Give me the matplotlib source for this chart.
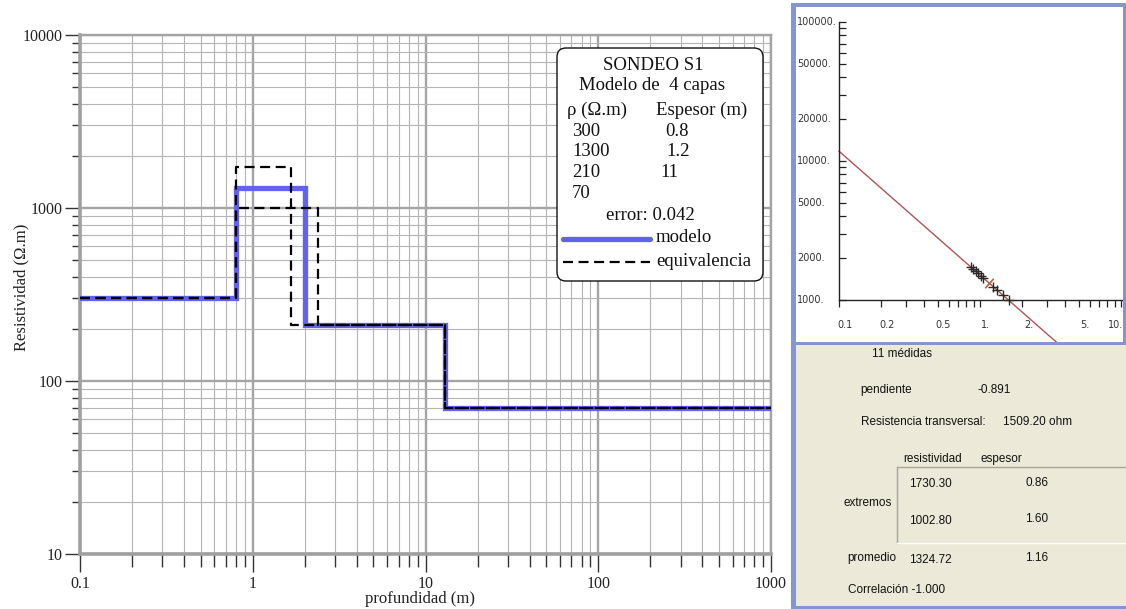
import matplotlib
matplotlib.use("Agg")
import matplotlib.pyplot as plt
import numpy as np
from matplotlib.patches import FancyBboxPatch, Rectangle
from matplotlib.lines import Line2D
from matplotlib.ticker import FixedLocator, FixedFormatter, NullFormatter
from matplotlib.transforms import blended_transform_factory, ScaledTranslation

# ---------------- data ----------------
layer_rho = [300, 1300, 210, 70]          # resistivity of each layer (ohm.m)
layer_thick = [0.8, 1.2, 11]              # thickness of each layer (m)
model_error = 0.042

equiv_rho = [1730.30, 1002.80]            # extreme equivalent resistivities, layer 2
equiv_thick = [0.86, 1.60]                # matching thicknesses, layer 2
mean_rho = 1324.72
mean_thick = 1.16
slope = -0.891
transverse_res = 1509.20
correlation = -1.000

# equivalent solutions (thickness, resistivity) of layer 2
eq_h = [0.86, 0.89, 0.93, 0.97, 1.01, 1.05, 1.24, 1.33, 1.45, 1.60, 1.16]
eq_r = [1730, 1677, 1613, 1554, 1499, 1448, 1248, 1173, 1086, 1003, 1325]

main_xticks = [0.1, 1, 10, 100, 1000]
main_xlabels = ["0.1", "1", "10", "100", "1000"]
main_yticks = [10, 100, 1000, 10000]
main_ylabels = ["10", "100", "1000", "10000"]

small_xticks = [0.1, 0.2, 0.5, 1, 2, 5, 10]
small_xlabels = ["0.1", "0.2", "0.5", "1.", "2.", "5.", "10."]
small_yticks = [1000, 2000, 5000, 10000, 20000, 50000, 100000]
small_ylabels = ["1000.", "2000.", "5000.", "10000.", "20000.", "50000.", "100000."]

# ---------------- figure ----------------
W, H, DPI = 1126, 609, 100
fig = plt.figure(figsize=(W / DPI, H / DPI), dpi=DPI)
fig.patch.set_facecolor("white")
T = fig.dpi_scale_trans


def P(x, y):
    return (x / DPI, (H - y) / DPI)


SERIF = "Liberation Serif"
SANS = "Liberation Sans"

# ---------------- main resistivity profile ----------------
ax = fig.add_axes([80 / W, (H - 554) / H, 691 / W, 519 / H])
ax.set_xscale("log")
ax.set_yscale("log")
ax.set_xlim(0.1, 1000)
ax.set_ylim(10, 10000)
ax.set_axisbelow(True)

ax.grid(which="major", color="#a4a4a4", lw=1.7)
ax.grid(which="minor", color="#b4b4b4", lw=0.8)
for s in ["left", "bottom"]:
    ax.spines[s].set_color("#a0a0a0")
    ax.spines[s].set_linewidth(2.6)
for s in ["top", "right"]:
    ax.spines[s].set_color("#a4a4a4")
    ax.spines[s].set_linewidth(1.7)

ax.xaxis.set_major_locator(FixedLocator(main_xticks))
ax.xaxis.set_major_formatter(FixedFormatter(main_xlabels))
ax.yaxis.set_major_locator(FixedLocator(main_yticks))
ax.yaxis.set_major_formatter(FixedFormatter(main_ylabels))
ax.xaxis.set_minor_formatter(NullFormatter())
ax.yaxis.set_minor_formatter(NullFormatter())
ax.tick_params(axis="x", which="major", direction="out", length=13, width=1.0,
               color="#333333", pad=3, labelsize=11.5)
ax.tick_params(axis="x", which="minor", direction="out", length=9, width=1.0,
               color="#333333")
ax.tick_params(axis="y", which="major", direction="out", length=11, width=1.0,
               color="#333333", pad=1.5, labelsize=11.5)
ax.tick_params(axis="y", which="minor", direction="out", length=6, width=1.0,
               color="#333333")
for lab in ax.get_xticklabels() + ax.get_yticklabels():
    lab.set_fontfamily(SERIF)
    lab.set_color("#222222")

xmin, xmax = ax.get_xlim()

# model curve
bounds = np.cumsum(layer_thick)
edges = np.concatenate([[xmin], bounds, [xmax]])
vals = layer_rho + [layer_rho[-1]]
ax.step(edges, vals, where="post", color="#6262ee", lw=3.8, zorder=3,
        solid_joinstyle="miter")

# equivalent models
for r, h in zip(equiv_rho, equiv_thick):
    e_edges = [xmin, layer_thick[0], layer_thick[0] + h, bounds[2], xmax]
    e_vals = [layer_rho[0], r, layer_rho[2], layer_rho[3], layer_rho[3]]
    ax.step(e_edges, e_vals, where="post", color="black", lw=1.6,
            dashes=(4.5, 2.5), zorder=4)

fig.text(*P(420, 599), "profundidad (m)", transform=T, ha="center", va="center",
         fontsize=12, fontfamily=SERIF, color="#222222")
fig.text(*P(21, 287), "Resistividad (\u03a9.m)", transform=T, ha="center",
         va="center", rotation=90, fontsize=12, fontfamily=SERIF, color="#222222")

# legend box
box = FancyBboxPatch(P(557, 281), 206 / DPI, 233 / DPI, transform=T,
                     boxstyle="round,pad=0,rounding_size=0.09",
                     facecolor="white", edgecolor="#111111", lw=1.0, zorder=5)
fig.patches.append(box)

tkw = dict(transform=T, fontsize=13.5, fontfamily=SERIF, color="#111111",
           va="center", zorder=6)
fig.text(*P(653, 65), "SONDEO S1", ha="center", **tkw)
fig.text(*P(652, 86), "Modelo de  %d capas" % len(layer_rho), ha="center", **tkw)
fig.text(*P(567, 110), "\u03c1 (\u03a9.m)", ha="left", **tkw)
fig.text(*P(656, 110), "Espesor (m)", ha="left", **tkw)
row_y = [131, 152, 173, 194]
thick_x = [665, 666, 660]
for i, r in enumerate(layer_rho):
    fig.text(*P(572, row_y[i]), "%g" % r, ha="left", **tkw)
    if i < len(layer_thick):
        fig.text(*P(thick_x[i], row_y[i]), "%g" % layer_thick[i], ha="left", **tkw)
fig.text(*P(606, 215), "error: %.3f" % model_error, ha="left", **tkw)
fig.text(*P(656, 238), "modelo", ha="left", **tkw)
fig.text(*P(656, 262), "equivalencia", ha="left", **tkw)
x0, y0 = P(563, 239)
x1, _ = P(650, 239)
fig.lines.append(Line2D([x0, x1], [y0, y0], transform=T, color="#6262ee",
                        lw=3.8, zorder=6, solid_capstyle="round"))
x0, y0 = P(563, 262)
fig.lines.append(Line2D([x0, x1], [y0, y0], transform=T, color="black",
                        lw=1.6, dashes=(4.5, 2.5), zorder=6))

# ---------------- right side panels ----------------
BORDER = "#8596cf"
fig.patches.append(Rectangle(P(795, 609), 331 / DPI, 264 / DPI, transform=T,
                             facecolor="#ece9d8", edgecolor="none", zorder=0))
fig.patches.append(Rectangle(P(791, 609), 5 / DPI, 605 / DPI, transform=T,
                             facecolor=BORDER, edgecolor="none", zorder=8))
fig.patches.append(Rectangle(P(791, 7), 335 / DPI, 4 / DPI, transform=T,
                             facecolor=BORDER, edgecolor="none", zorder=8))
fig.patches.append(Rectangle(P(1123, 344), 3 / DPI, 340 / DPI, transform=T,
                             facecolor=BORDER, edgecolor="none", zorder=8))
fig.patches.append(Rectangle(P(791, 345), 335 / DPI, 3 / DPI, transform=T,
                             facecolor=BORDER, edgecolor="none", zorder=8))
fig.patches.append(Rectangle(P(791, 609), 335 / DPI, 3 / DPI, transform=T,
                             facecolor=BORDER, edgecolor="none", zorder=8))

# small log-log plot of equivalent solutions
sx0, sx1, sy0, sy1 = 797, 1123, 8, 342
ax2 = fig.add_axes([sx0 / W, (H - sy1) / H, (sx1 - sx0) / W, (sy1 - sy0) / H])
ax2.set_xscale("log")
ax2.set_yscale("log")
ax2.patch.set_alpha(0)
dec_x, dec_y = 141.0, 139.0
ax2.set_xlim(10 ** (-1 + (sx0 - 839) / dec_x), 10 ** (-1 + (sx1 - 839) / dec_x))
ax2.set_ylim(10 ** (3 - (sy1 - 300) / dec_y), 10 ** (3 + (300 - sy0) / dec_y))
for s in ["top", "right"]:
    ax2.spines[s].set_visible(False)
ax2.spines["left"].set_position(("data", 0.1))
ax2.spines["left"].set_bounds(1000, 100000)
ax2.spines["bottom"].set_position(("data", 1000))
ax2.spines["bottom"].set_bounds(0.1, 10.3)
for s in ["left", "bottom"]:
    ax2.spines[s].set_color("#222222")
    ax2.spines[s].set_linewidth(1.0)

ax2.xaxis.set_major_locator(FixedLocator(small_xticks))
ax2.yaxis.set_major_locator(FixedLocator(small_yticks))
x_minor = [m * d for d in (0.1, 1) for m in (3, 4, 6, 7, 8, 9)]
y_minor = [m * d for d in (1000, 10000) for m in (3, 4, 6, 7, 8, 9)]
ax2.xaxis.set_minor_locator(FixedLocator(x_minor))
ax2.yaxis.set_minor_locator(FixedLocator(y_minor))
ax2.tick_params(axis="x", which="both", direction="out", length=5, width=0.9,
                color="#222222", labelbottom=False)
ax2.tick_params(axis="y", which="both", direction="in", length=5, width=0.9,
                color="#222222", labelleft=False)

skw = dict(fontsize=7, fontfamily="DejaVu Sans", color="#333333")
tr_y = blended_transform_factory(ax2.transAxes, ax2.transData)
for v, s in zip(small_yticks, small_ylabels):
    ax2.text(0.0, v, s, transform=tr_y, ha="left", va="center", clip_on=False, **skw)
tr_x = blended_transform_factory(ax2.transData, ax2.transAxes)
ylab_pos = (sy1 - 325) / (sy1 - sy0)
for v, s in zip(small_xticks, small_xlabels):
    if v == small_xticks[-1]:
        # last label sits against the panel edge
        ax2.text(1.0, ylab_pos, s, transform=ax2.transAxes, ha="right",
                 va="center", clip_on=False, **skw)
    else:
        ax2.text(v, ylab_pos, s, transform=tr_x + ScaledTranslation(6 / DPI, 0, T),
                 ha="center", va="center", clip_on=False, **skw)

# fitted line through the mean solution
hx = np.logspace(-1, 1.5, 50)
ax2.plot(hx, mean_rho * (hx / mean_thick) ** slope, color="#b05454", lw=1.0,
         zorder=2)
ax2.plot(eq_h[:-1], eq_r[:-1], linestyle="none", marker="+", markersize=7,
         mew=1.0, color="#2a2a2a", zorder=3)
ax2.plot(eq_h[-1:], eq_r[-1:], linestyle="none", marker=(2, 2, -42),
         markersize=9, mew=1.0, color="#c07048", zorder=3)

# summary table
fkw = dict(transform=T, fontsize=8.5, fontfamily=SANS, color="#111111",
           ha="left", va="center", zorder=9)
fig.text(*P(872, 354), "%d médidas" % len(eq_h), **fkw)
fig.text(*P(860, 390), "pendiente", **fkw)
fig.text(*P(978, 390), "%.3f" % slope, **fkw)
fig.text(*P(861, 422), "Resistencia transversal:", **fkw)
fig.text(*P(1003, 422), "%.2f ohm" % transverse_res, **fkw)
fig.text(*P(903, 459), "resistividad", **fkw)
fig.text(*P(980, 459), "espesor", **fkw)
fig.text(*P(909, 484), "%.2f" % equiv_rho[0], **fkw)
fig.text(*P(1025, 483), "%.2f" % equiv_thick[0], **fkw)
fig.text(*P(844, 503), "extremos", **fkw)
fig.text(*P(909, 521), "%.2f" % equiv_rho[1], **fkw)
fig.text(*P(1025, 519), "%.2f" % equiv_thick[1], **fkw)
fig.text(*P(847, 558), "promedio", **fkw)
fig.text(*P(909, 560), "%.2f" % mean_rho, **fkw)
fig.text(*P(1025, 558), "%.2f" % mean_thick, **fkw)
fig.text(*P(848, 590), "Correlación %.3f" % correlation, **fkw)

# sunken frame around the extreme values
xa, ya = P(897, 467)
xb, yb = P(1126, 543)
fig.lines.append(Line2D([xa, xb], [ya, ya], transform=T, color="#a8a69c", lw=1.0, zorder=9))
fig.lines.append(Line2D([xa, xa], [ya, yb], transform=T, color="#a8a69c", lw=1.0, zorder=9))
fig.lines.append(Line2D([xa, xb], [yb, yb], transform=T, color="#ffffff", lw=1.0, zorder=9))

fig.savefig("out.png", dpi=DPI)
